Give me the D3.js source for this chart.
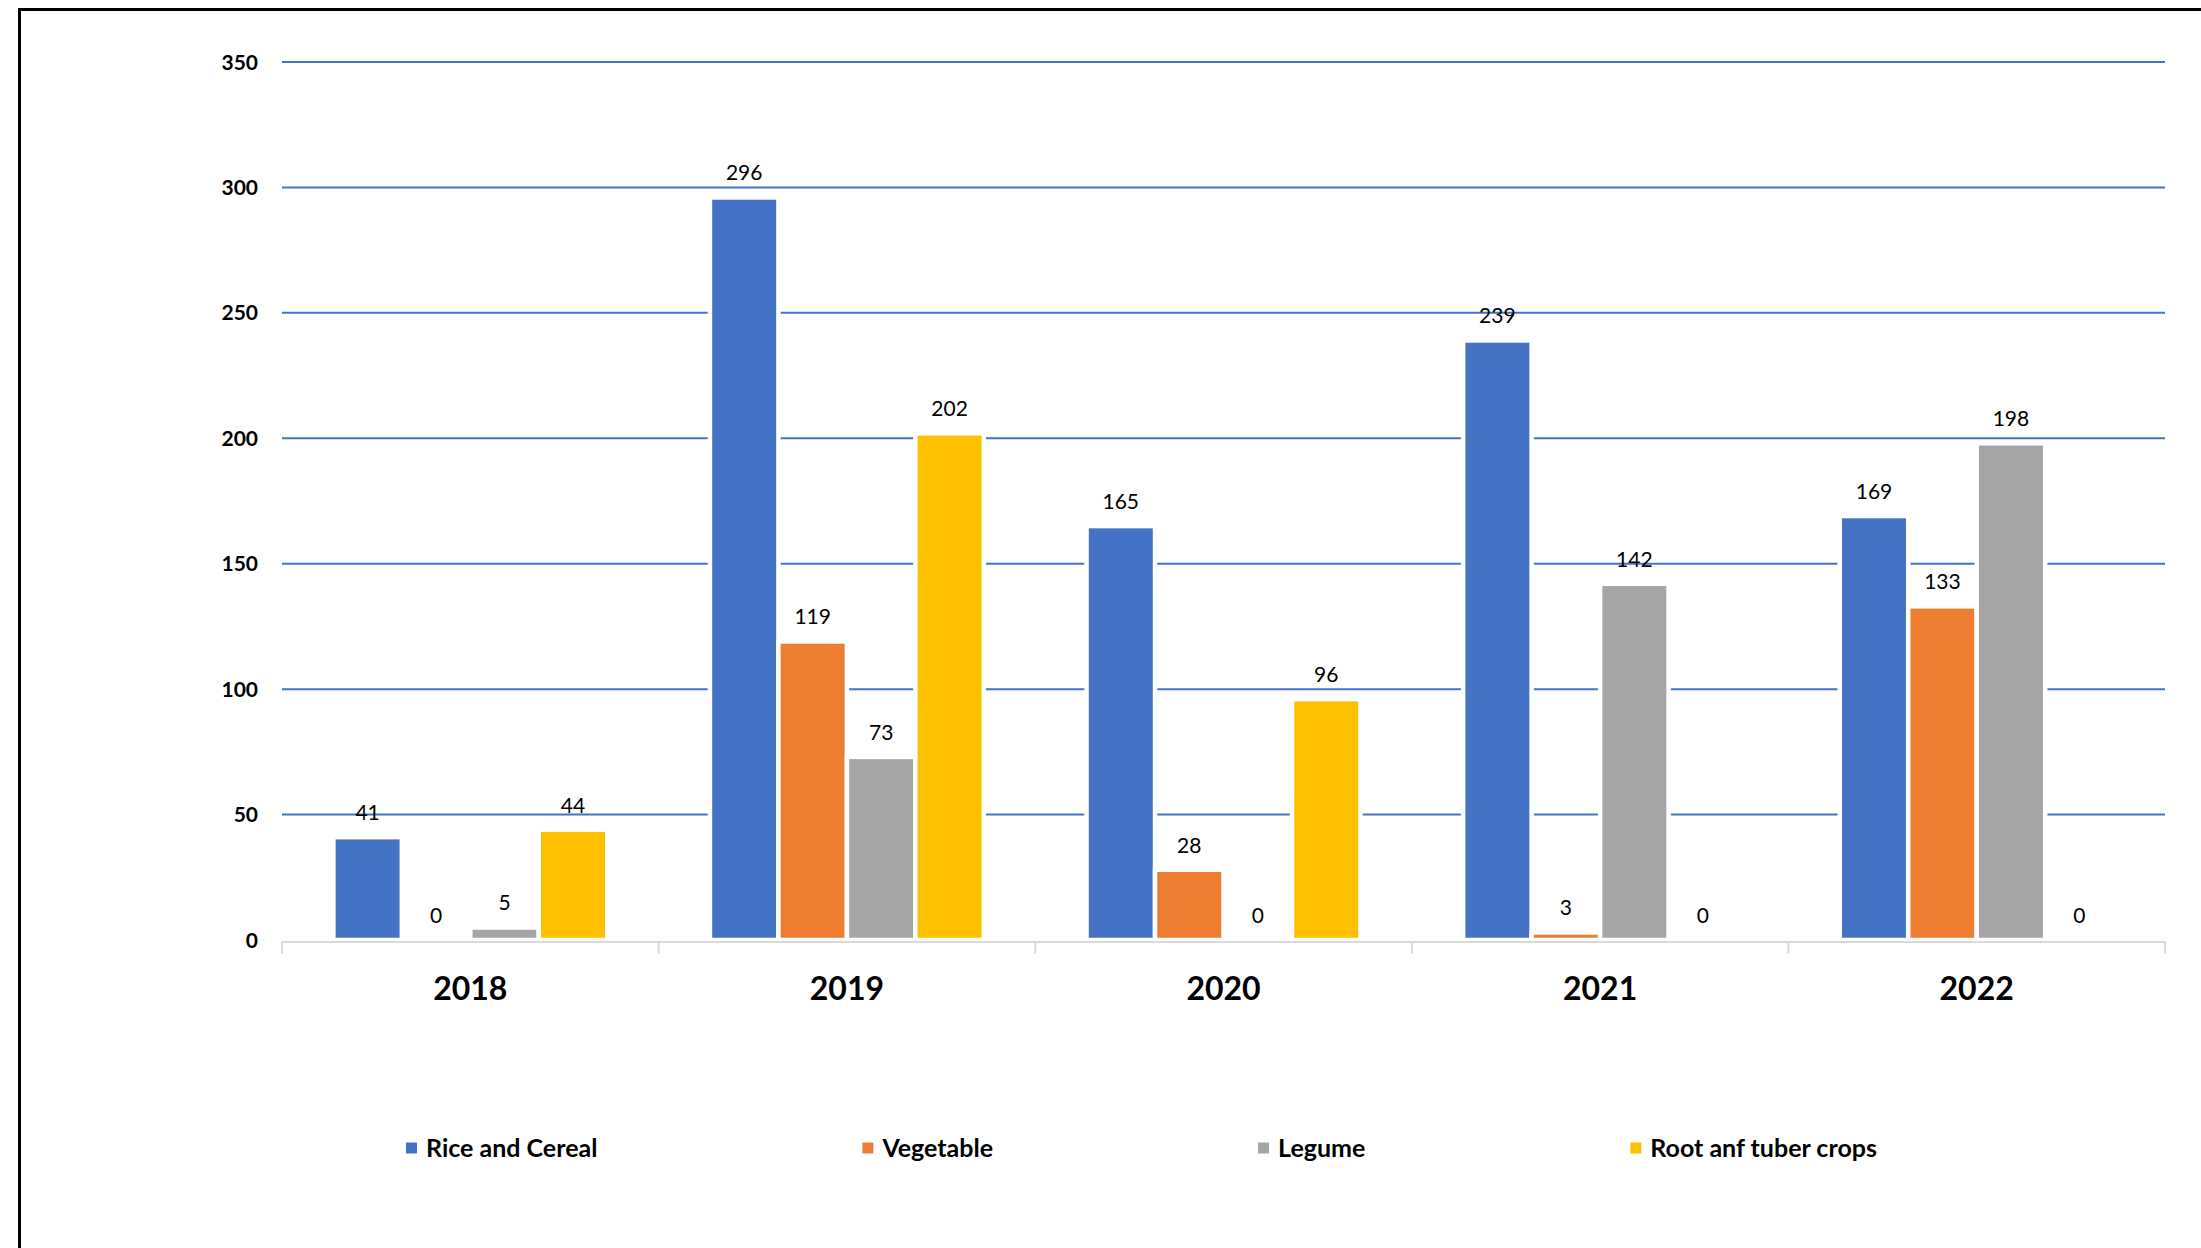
<!DOCTYPE html>
<html>
<head>
<meta charset="utf-8">
<script src="https://cdn.jsdelivr.net/npm/d3@7"></script>
<style>
  html, body { margin: 0; padding: 0; background: #fff; }
  svg { display: block; font-family: Lato, "Open Sans", sans-serif; }
</style>
</head>
<body>
<svg id="chart"></svg>
<script>
// data
const years = ["2018", "2019", "2020", "2021", "2022"];
const series = ["Rice and Cereal", "Vegetable", "Legume", "Root anf tuber crops"];
const riceAndCereal = [41, 296, 165, 239, 169];
const vegetable = [0, 119, 28, 3, 133];
const legume = [5, 73, 0, 142, 198];
const rootTuber = [44, 202, 96, 0, 0];
const yTicks = [0, 50, 100, 150, 200, 250, 300, 350];
const colors = ["#4472C4", "#ED7D31", "#A5A5A5", "#FFC000"];

const values = [riceAndCereal, vegetable, legume, rootTuber];

const width = 2201, height = 1248;
const svg = d3.select("#chart")
	.attr("width", width)
	.attr("height", height)
	.attr("viewBox", "0 0 " + width + " " + height);

// frame (only top and left edges show in the picture)
svg.append("path")
	.attr("d", "M 19.5 " + height + " L 19.5 9.5 L " + width + " 9.5")
	.style("fill", "none")
	.style("stroke", "#000")
	.style("stroke-width", 3);

const plotLeft = 282, plotRight = 2165, plotTop = 62, plotBottom = 940;

const x0 = d3.scaleBand()
	.domain(years)
	.range([plotLeft, plotRight])
	.paddingInner(0)
	.paddingOuter(0);

const x1 = d3.scaleBand()
	.domain(series)
	.range([0, x0.bandwidth()])
	.paddingInner(0)
	.paddingOuter(0.75);

const y = d3.scaleLinear()
	.domain([0, 350])
	.range([plotBottom, plotTop]);

// gridlines
svg.append("g")
	.selectAll("line")
	.data(yTicks.filter(d => d > 0))
	.join("line")
	.attr("x1", plotLeft)
	.attr("x2", plotRight)
	.attr("y1", d => y(d))
	.attr("y2", d => y(d))
	.style("stroke", "#4472C4")
	.style("stroke-width", 2);

// y tick labels
svg.append("g")
	.selectAll("text")
	.data(yTicks)
	.join("text")
	.attr("x", 258)
	.attr("y", d => y(d))
	.attr("dy", "0.36em")
	.attr("text-anchor", "end")
	.style("font-size", "21px")
	.style("font-weight", "bold")
	.style("fill", "#000")
	.text(d => d);

// bars
const rows = [];
years.forEach((yr, i) => {
	series.forEach((s, j) => {
		rows.push({year: yr, series: s, value: values[j][i], color: colors[j]});
	});
});

const groups = svg.append("g").selectAll("g")
	.data(rows)
	.join("g")
	.attr("transform", d => "translate(" + (x0(d.year) + x1(d.series)) + ",0)");

groups.filter(d => d.value > 0)
	.append("rect")
	.attr("x", 0)
	.attr("y", d => y(d.value))
	.attr("width", x1.bandwidth())
	.attr("height", d => plotBottom - y(d.value))
	.style("fill", d => d.color)
	.style("stroke", "#fff")
	.style("stroke-width", 4.5);

groups.append("text")
	.attr("x", x1.bandwidth() / 2)
	.attr("y", d => y(d.value) - 17)
	.attr("text-anchor", "middle")
	.style("font-size", "21px")
	.style("fill", "#000")
	.text(d => d.value);

// x axis line with category ticks
const xAxis = d3.axisBottom(x0).tickSize(0).tickFormat("");
const axisG = svg.append("g")
	.attr("transform", "translate(0," + (plotBottom + 1.5) + ")")
	.call(xAxis);
axisG.select(".domain").style("stroke", "#D9D9D9").style("stroke-width", 2);
axisG.selectAll(".boundary")
	.data(d3.range(years.length + 1))
	.join("line")
	.attr("class", "boundary")
	.attr("x1", i => plotLeft + i * x0.step())
	.attr("x2", i => plotLeft + i * x0.step())
	.attr("y1", 0)
	.attr("y2", 12)
	.style("stroke", "#D9D9D9")
	.style("stroke-width", 2);

// year labels
svg.append("g")
	.selectAll("text")
	.data(years)
	.join("text")
	.attr("x", d => x0(d) + x0.bandwidth() / 2)
	.attr("y", 1000)
	.attr("text-anchor", "middle")
	.style("font-size", "32px")
	.style("font-weight", "bold")
	.style("fill", "#000")
	.text(d => d);

// legend
const legend = svg.append("g").attr("transform", "translate(406,1148)");
let lx = 0;
series.forEach((s, j) => {
	const item = legend.append("g").attr("transform", "translate(" + lx + ",0)");
	item.append("rect")
		.attr("x", 0)
		.attr("y", -5.5)
		.attr("width", 11)
		.attr("height", 11)
		.style("fill", colors[j]);
	const t = item.append("text")
		.attr("x", 20)
		.attr("y", 0)
		.attr("dy", "0.36em")
		.style("font-size", "25px")
		.style("font-weight", "bold")
		.style("fill", "#000")
		.text(s);
	lx += 20 + t.node().getComputedTextLength() + 265;
});
</script>
</body>
</html>
